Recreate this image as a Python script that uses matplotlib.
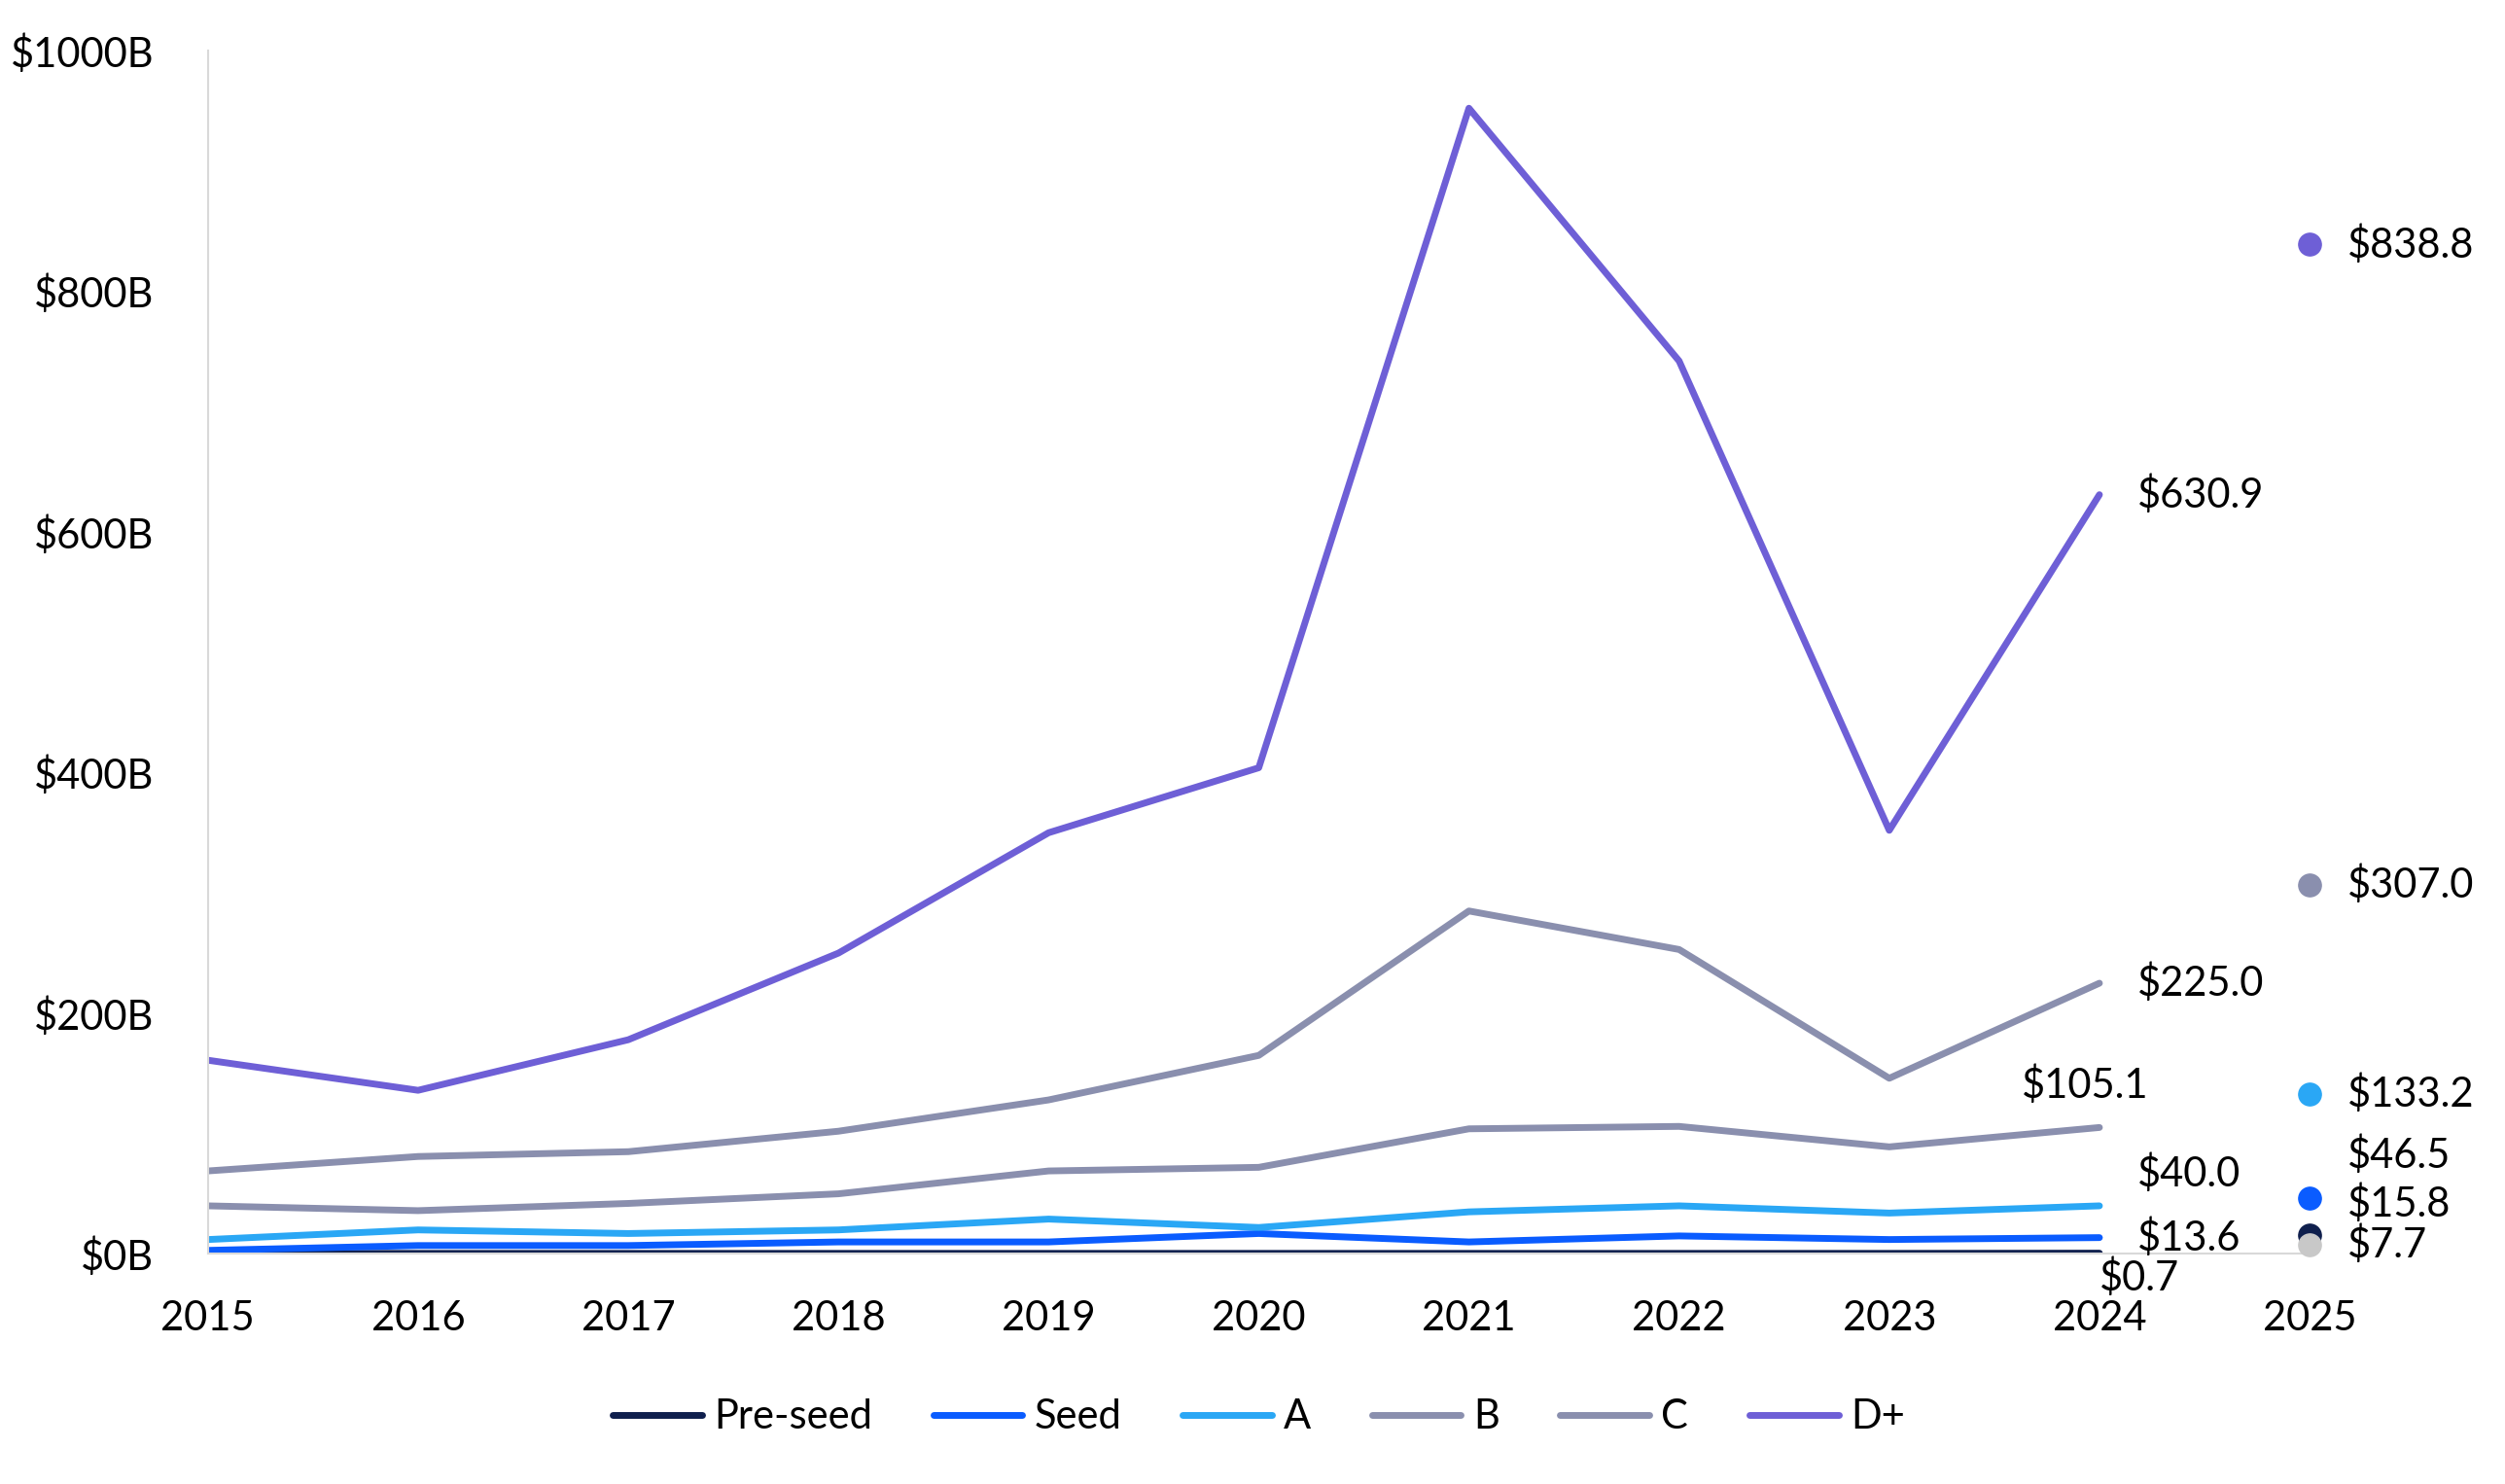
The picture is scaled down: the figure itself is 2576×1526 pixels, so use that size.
import matplotlib.pyplot as plt

plt.rcParams["font.family"] = ["Lato", "DejaVu Sans"]

years = list(range(2015, 2025))
pre_seed = [0.5, 0.5, 0.5, 0.5, 0.5, 0.5, 0.5, 0.5, 0.5, 0.7]
seed = [3, 7, 7, 10, 10, 17, 10, 15, 12, 13.6]
series_a = [12, 20, 17, 20, 29, 22, 35, 40, 34, 40.0]
series_b = [40, 36, 42, 50, 69, 72, 104, 106, 89, 105.1]
series_c = [69, 81, 85, 102, 128, 165, 285, 253, 146, 225.0]
series_d = [161, 136, 178, 250, 350, 404, 952, 742, 352, 630.9]

# 2025 projection dots and their labels
proj_vals = [838.8, 307.0, 133.2, 46.5, 15.8, 7.7]
proj_labels = ["$838.8", "$307.0", "$133.2", "$46.5", "$15.8", "$7.7"]
proj_label_y = [838.8, 307.0, 133.2, 82, 42, 7.7]
proj_colors = ["#6e5fd6", "#8a8fae", "#2aa7f5", "#0a5cff", "#0f1f4d", "#c8c8c8"]

names = ["Pre-seed", "Seed", "A", "B", "C", "D+"]
colors = ["#0f1f4d", "#0a5cff", "#2aa7f5", "#8a8fae", "#8a8fae", "#6e5fd6"]
end_labels = ["$0.7", "$13.6", "$40.0", "$105.1", "$225.0", "$630.9"]
end_offsets = [(0, -20), (0.18, 0), (0.18, 27), (-0.07, 35), (0.18, 0), (0.18, 0)]

fig = plt.figure(figsize=(25.76, 15.26), dpi=100)
ax = fig.add_axes([0.083, 0.155, 0.839, 0.811])

all_series = [pre_seed, seed, series_a, series_b, series_c, series_d]
for vals, name, color, lab, (dx, dy) in zip(all_series, names, colors, end_labels, end_offsets):
    ax.plot(years, vals, color=color, linewidth=5, label=name, solid_capstyle="round")
    ax.text(years[-1] + dx, vals[-1] + dy, lab, fontsize=30, va="center", ha="left" if dx >= 0 else "center")

for v, ly, lab, c in zip(proj_vals, proj_labels and proj_label_y, proj_labels, proj_colors):
    ax.scatter([2025], [v], s=280, color=c, zorder=3, clip_on=False)
    ax.text(2025.18, ly, lab, fontsize=30, va="center", ha="left")

ax.set_xlim(2015, 2025)
ax.set_ylim(0, 1000)
ax.set_xticks(range(2015, 2026))
ax.set_yticks(range(0, 1001, 200))
ax.set_yticklabels([f"${v}B" for v in range(0, 1001, 200)])
ax.tick_params(axis="x", labelsize=30, length=0, pad=34)
ax.tick_params(axis="y", labelsize=30, length=0, pad=40)
for s in ["top", "right"]:
    ax.spines[s].set_visible(False)
for s in ["left", "bottom"]:
    ax.spines[s].set_color("#d9d9d9")
    ax.spines[s].set_linewidth(1.5)

ax.legend(loc="upper center", bbox_to_anchor=(0.5, -0.09), ncol=6, frameon=False,
          fontsize=30, handlelength=2.2, columnspacing=1.5, handletextpad=0.3)

fig.savefig("out.png", dpi=100, facecolor="white")
